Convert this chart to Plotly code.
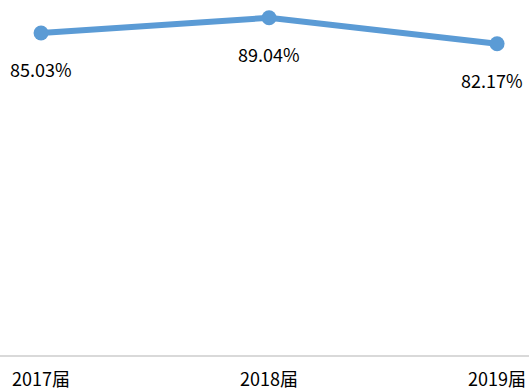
import plotly.graph_objects as go

categories = ["2017届", "2018届", "2019届"]
values = [85.03, 89.04, 82.17]
labels = ["85.03%", "89.04%", "82.17%"]

font_family = "Noto Sans CJK SC, Noto Sans, sans-serif"
color = "#5B9BD5"

fig = go.Figure()
fig.add_trace(go.Scatter(
    x=[0, 1, 2], y=values, mode="lines+markers",
    line=dict(color=color, width=6),
    marker=dict(color=color, size=15),
    hoverinfo="skip", cliponaxis=False,
))

xshifts = [0, 0, -5]
for i, (v, t) in enumerate(zip(values, labels)):
    fig.add_annotation(x=i, y=v, text=t, showarrow=False, yshift=-36, xshift=xshifts[i],
                       font=dict(family=font_family, size=18, color="#000000"))

fig.update_layout(
    width=529, height=392,
    margin=dict(l=0, r=0, t=0, b=37),
    paper_bgcolor="white", plot_bgcolor="white",
    showlegend=False,
    xaxis=dict(
        tickmode="array", tickvals=[0, 1, 2], ticktext=categories,
        range=[-0.18, 2.14], showgrid=False, zeroline=False, automargin=False,
        showline=True, linecolor="#d9d9d9", linewidth=2,
        ticks="outside", ticklen=7, tickcolor="rgba(0,0,0,0)",
        tickfont=dict(family=font_family, size=18, color="#000000"),
    ),
    yaxis=dict(range=[0, 93.74], visible=False, automargin=False),
)

fig.write_html("out.html", config={"displayModeBar": False},
               post_script="document.body.style.margin='0';document.body.style.padding='0';")
